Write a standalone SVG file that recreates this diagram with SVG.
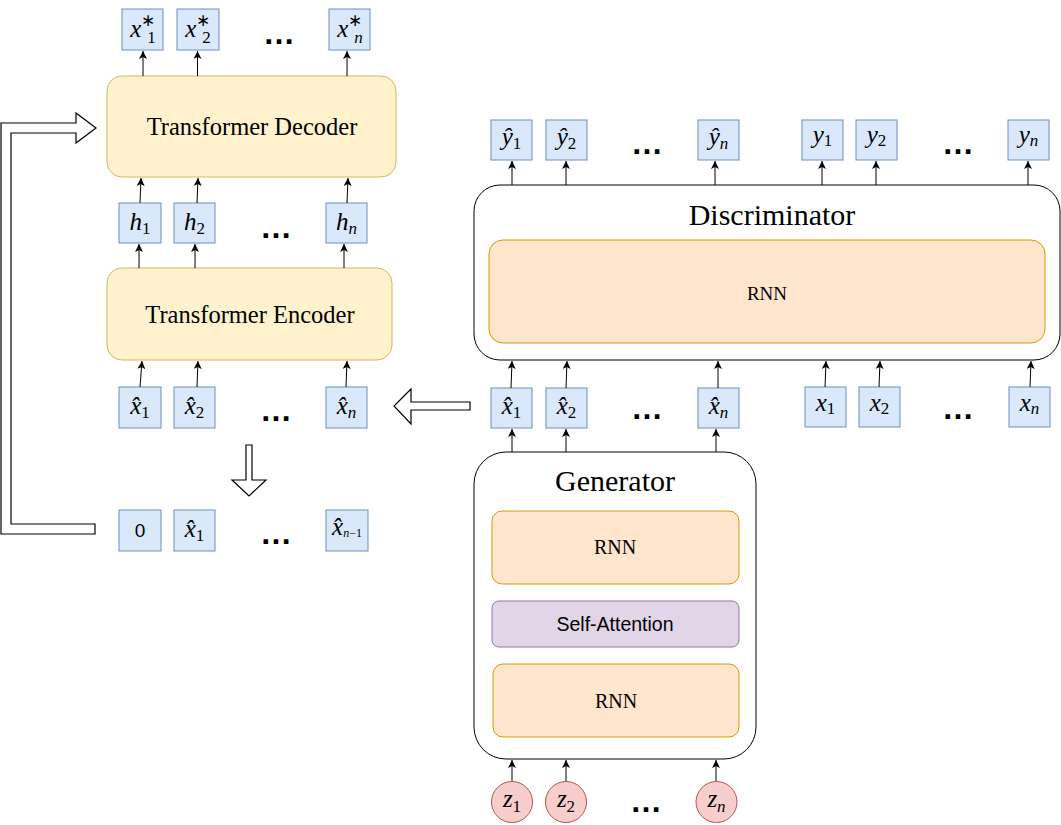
<svg xmlns="http://www.w3.org/2000/svg" width="1061" height="825" viewBox="0 0 1061 825">
<style>
.bx{fill:#dae8fc;stroke:#6c8ebf;stroke-width:1}
.yel{fill:#fff2cc;stroke:#d6b656;stroke-width:1}
.org{fill:#ffe6cc;stroke:#d79b00;stroke-width:1}
.pur{fill:#e1d5e7;stroke:#9673a6;stroke-width:1}
.red{fill:#f8cecc;stroke:#b85450;stroke-width:1}
.cont{fill:#fff;stroke:#000;stroke-width:1}
.bigarrow{fill:#fff;stroke:#000;stroke-width:1.2}
.conn line{stroke:#000;stroke-width:1;marker-end:url(#ah)}
.m{font-family:"Liberation Serif",serif;font-size:25px;text-anchor:middle;fill:#000}
.v{font-style:italic}
.sub{font-size:17px;font-style:normal}
.subv{font-size:17px;font-style:italic}
.sup{font-size:17px;font-style:normal}
.ttl{font-family:"Liberation Serif",serif;text-anchor:middle;fill:#000}
.dots{font-family:"Liberation Sans",sans-serif;font-weight:bold;font-size:32px;text-anchor:middle;fill:#000}
.sans{font-family:"Liberation Sans",sans-serif;text-anchor:middle;fill:#000}
</style>
<defs>
<marker id="ah" markerUnits="userSpaceOnUse" markerWidth="9" markerHeight="8" refX="8" refY="4" orient="auto">
<path d="M0,0 L8,4 L0,8 L2,4 z" fill="#000"/>
</marker>
</defs>
<rect width="1061" height="825" fill="#fff"/>

<!-- big hollow arrows -->
<g id="feedback-arrow"><polygon class="bigarrow" points="1,123 76,123 76,113 96,128 76,143 76,133 11,133 11,524 95,524 95,534 1,534"/></g>
<g id="down-arrow"><polygon class="bigarrow" points="246,445 252,445 252,480 266,480 249,496 232,480 246,480"/></g>
<g id="left-arrow"><polygon class="bigarrow" points="470,402 470,410 411,410 411,424 394,406 411,389 411,402"/></g>

<!-- Transformer Decoder / Encoder -->
<g id="decoder"><rect class="yel" x="107" y="76" width="289" height="101" rx="15"/><text class="ttl" x="252" y="135" font-size="24.5">Transformer Decoder</text></g>
<g id="encoder"><rect class="yel" x="107" y="268" width="285" height="92" rx="15"/><text class="ttl" x="250" y="323" font-size="24.5">Transformer Encoder</text></g>

<!-- x* outputs -->
<g id="xs1"><rect class="bx" x="122" y="9" width="41" height="41"/><text class="m" x="143" y="37"><tspan class="v">x</tspan><tspan class="sup" dy="-11">∗</tspan><tspan class="sub" dx="-8" dy="17">1</tspan></text></g>
<g id="xs2"><rect class="bx" x="177" y="9" width="42" height="41"/><text class="m" x="198" y="37"><tspan class="v">x</tspan><tspan class="sup" dy="-11">∗</tspan><tspan class="sub" dx="-8" dy="17">2</tspan></text></g>
<g id="xsn"><rect class="bx" x="329" y="9" width="41" height="41"/><text class="m" x="350" y="37"><tspan class="v">x</tspan><tspan class="sup" dy="-11">∗</tspan><tspan class="subv" dx="-8" dy="17">n</tspan></text></g>
<text class="dots" x="279" y="44">…</text>

<!-- h -->
<g id="h1"><rect class="bx" x="119" y="203" width="42" height="40"/><text class="m" x="140" y="230"><tspan class="v">h</tspan><tspan class="sub" dy="4">1</tspan></text></g>
<g id="h2"><rect class="bx" x="174" y="203" width="41" height="40"/><text class="m" x="194.5" y="230"><tspan class="v">h</tspan><tspan class="sub" dy="4">2</tspan></text></g>
<g id="hn"><rect class="bx" x="326" y="203" width="41" height="40"/><text class="m" x="346.5" y="230"><tspan class="v">h</tspan><tspan class="subv" dy="4">n</tspan></text></g>
<text class="dots" x="276" y="238">…</text>

<!-- x-hat encoder inputs -->
<g id="exh1"><rect class="bx" x="119" y="387" width="42" height="41"/><text class="m" x="140" y="414"><tspan class="v">x̂</tspan><tspan class="sub" dy="4">1</tspan></text></g>
<g id="exh2"><rect class="bx" x="174" y="387" width="41" height="41"/><text class="m" x="194.5" y="414"><tspan class="v">x̂</tspan><tspan class="sub" dy="4">2</tspan></text></g>
<g id="exhn"><rect class="bx" x="326" y="387" width="41" height="41"/><text class="m" x="346.5" y="414"><tspan class="v">x̂</tspan><tspan class="subv" dy="4">n</tspan></text></g>
<text class="dots" x="276" y="421">…</text>

<!-- shifted sequence -->
<g id="s0"><rect class="bx" x="119" y="510" width="42" height="41"/><text class="sans" x="140" y="537" font-size="19">0</text></g>
<g id="s1"><rect class="bx" x="174" y="510" width="41" height="41"/><text class="m" x="194.5" y="537"><tspan class="v">x̂</tspan><tspan class="sub" dy="4">1</tspan></text></g>
<g id="sn1"><rect class="bx" x="326" y="510" width="42" height="41"/><text class="m" x="347" y="535" font-size="16"><tspan class="v">x̂</tspan><tspan class="v" font-size="12" dy="2">n</tspan><tspan font-size="12">−1</tspan></text></g>
<text class="dots" x="276" y="544">…</text>

<!-- Discriminator -->
<g id="discriminator"><rect class="cont" x="474" y="185" width="586" height="175" rx="26"/><text class="ttl" x="772" y="225" font-size="30">Discriminator</text><rect class="org" x="489" y="240" width="556" height="103" rx="14"/><text class="ttl" x="767" y="300" font-size="19">RNN</text></g>

<!-- y outputs -->
<g id="yh1"><rect class="bx" x="491" y="120" width="41" height="40"/><text class="m" x="511.5" y="145"><tspan class="v">ŷ</tspan><tspan class="sub" dy="4">1</tspan></text></g>
<g id="yh2"><rect class="bx" x="546" y="120" width="41" height="40"/><text class="m" x="566.5" y="145"><tspan class="v">ŷ</tspan><tspan class="sub" dy="4">2</tspan></text></g>
<g id="yhn"><rect class="bx" x="698" y="120" width="41" height="40"/><text class="m" x="718.5" y="145"><tspan class="v">ŷ</tspan><tspan class="subv" dy="4">n</tspan></text></g>
<g id="y1"><rect class="bx" x="802" y="120" width="41" height="40"/><text class="m" x="822.5" y="143"><tspan class="v">y</tspan><tspan class="sub" dy="3">1</tspan></text></g>
<g id="y2"><rect class="bx" x="856" y="120" width="41" height="40"/><text class="m" x="876.5" y="143"><tspan class="v">y</tspan><tspan class="sub" dy="3">2</tspan></text></g>
<g id="yn"><rect class="bx" x="1008" y="120" width="41" height="40"/><text class="m" x="1028.5" y="143"><tspan class="v">y</tspan><tspan class="subv" dy="3">n</tspan></text></g>
<text class="dots" x="647" y="154">…</text>
<text class="dots" x="958" y="154">…</text>

<!-- x-hat and x inputs to discriminator -->
<g id="dxh1"><rect class="bx" x="491" y="388" width="41" height="40"/><text class="m" x="511.5" y="414"><tspan class="v">x̂</tspan><tspan class="sub" dy="4">1</tspan></text></g>
<g id="dxh2"><rect class="bx" x="546" y="388" width="41" height="40"/><text class="m" x="566.5" y="414"><tspan class="v">x̂</tspan><tspan class="sub" dy="4">2</tspan></text></g>
<g id="dxhn"><rect class="bx" x="698" y="388" width="41" height="40"/><text class="m" x="718.5" y="414"><tspan class="v">x̂</tspan><tspan class="subv" dy="4">n</tspan></text></g>
<g id="x1"><rect class="bx" x="805" y="387" width="41" height="40"/><text class="m" x="825.5" y="411"><tspan class="v">x</tspan><tspan class="sub" dy="3">1</tspan></text></g>
<g id="x2"><rect class="bx" x="859" y="387" width="41" height="40"/><text class="m" x="879.5" y="411"><tspan class="v">x</tspan><tspan class="sub" dy="3">2</tspan></text></g>
<g id="xn"><rect class="bx" x="1009" y="387" width="41" height="40"/><text class="m" x="1029.5" y="411"><tspan class="v">x</tspan><tspan class="subv" dy="3">n</tspan></text></g>
<text class="dots" x="647" y="419">…</text>
<text class="dots" x="958" y="419">…</text>

<!-- Generator -->
<g id="generator"><rect class="cont" x="474" y="452" width="282" height="307" rx="32"/><text class="ttl" x="615" y="491" font-size="30">Generator</text>
<rect class="org" x="492" y="511" width="247" height="73" rx="10"/><text class="ttl" x="615" y="554" font-size="20">RNN</text>
<rect class="pur" x="492" y="601" width="247" height="46" rx="7"/><text class="sans" x="615" y="631" font-size="19.5">Self-Attention</text>
<rect class="org" x="493" y="664" width="246" height="73" rx="10"/><text class="ttl" x="616" y="708" font-size="20">RNN</text></g>

<!-- z -->
<g id="z1"><circle class="red" cx="512" cy="802" r="20.5"/><text class="m" x="512" y="807"><tspan class="v">z</tspan><tspan class="sub" dy="5">1</tspan></text></g>
<g id="z2"><circle class="red" cx="566" cy="802" r="20.5"/><text class="m" x="566" y="807"><tspan class="v">z</tspan><tspan class="sub" dy="5">2</tspan></text></g>
<g id="zn"><circle class="red" cx="716.5" cy="802" r="20.5"/><text class="m" x="716.5" y="807"><tspan class="v">z</tspan><tspan class="subv" dy="5">n</tspan></text></g>
<text class="dots" x="646" y="812">…</text>

<!-- connectors -->
<g id="connectors" class="conn">
<line x1="143" y1="76" x2="143" y2="51"/>
<line x1="197.5" y1="76" x2="197.5" y2="51"/>
<line x1="347" y1="76" x2="347" y2="51"/>
<line x1="140" y1="203" x2="141" y2="178"/>
<line x1="197" y1="203" x2="198" y2="178"/>
<line x1="347" y1="203" x2="348" y2="178"/>
<line x1="139" y1="268" x2="139" y2="244"/>
<line x1="195" y1="268" x2="195" y2="244"/>
<line x1="344" y1="268" x2="344" y2="244"/>
<line x1="140" y1="387" x2="142" y2="361"/>
<line x1="197" y1="387" x2="198" y2="361"/>
<line x1="346" y1="387" x2="347" y2="361"/>
<line x1="512" y1="185" x2="512" y2="161"/>
<line x1="566" y1="185" x2="566" y2="161"/>
<line x1="715" y1="185" x2="715" y2="161"/>
<line x1="822" y1="185" x2="822" y2="161"/>
<line x1="876" y1="185" x2="876" y2="161"/>
<line x1="1028" y1="185" x2="1028" y2="161"/>
<line x1="511" y1="388" x2="512" y2="361"/>
<line x1="566" y1="388" x2="567" y2="361"/>
<line x1="718" y1="388" x2="718" y2="361"/>
<line x1="825" y1="387" x2="826" y2="361"/>
<line x1="879" y1="387" x2="880" y2="361"/>
<line x1="1030" y1="387" x2="1031" y2="361"/>
<line x1="512" y1="452" x2="512" y2="429"/>
<line x1="566" y1="452" x2="566" y2="429"/>
<line x1="716" y1="452" x2="716" y2="429"/>
<line x1="512" y1="781" x2="512" y2="760"/>
<line x1="566" y1="781" x2="566" y2="760"/>
<line x1="716" y1="781" x2="716" y2="760"/>
</g>
</svg>
